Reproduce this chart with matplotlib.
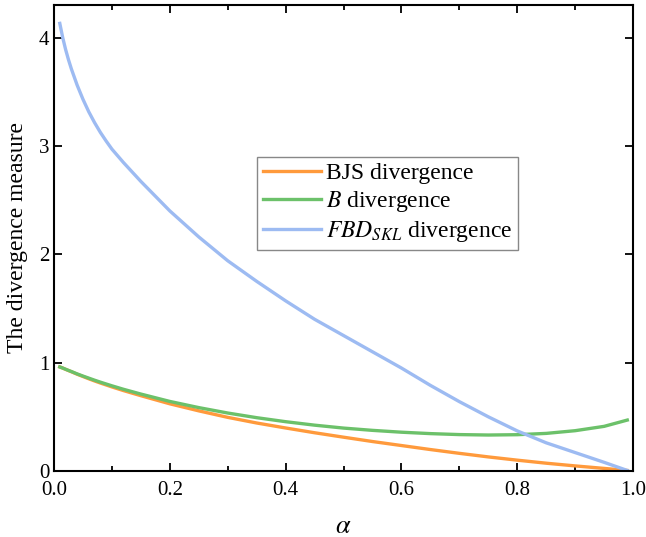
import numpy as np
import matplotlib.pyplot as plt
from matplotlib.ticker import MultipleLocator

plt.rcParams['font.family'] = ['Liberation Serif', 'DejaVu Serif']
plt.rcParams['mathtext.fontset'] = 'stix'

## values
alpha = [0.01, 0.015, 0.02, 0.025, 0.03, 0.04, 0.05, 0.06, 0.07, 0.08, 0.09, 0.10,
         0.12, 0.15, 0.20, 0.25, 0.30, 0.35, 0.40, 0.45, 0.50, 0.55, 0.60, 0.65,
         0.70, 0.75, 0.80, 0.85, 0.90, 0.95, 0.99]
bjs = [0.96, 0.95, 0.938, 0.927, 0.916, 0.893, 0.872, 0.851, 0.831, 0.812, 0.794, 0.776,
       0.742, 0.695, 0.62, 0.555, 0.495, 0.443, 0.397, 0.353, 0.312, 0.272, 0.235, 0.198,
       0.163, 0.13, 0.10, 0.072, 0.047, 0.024, 0.005]
b_div = [0.96, 0.95, 0.939, 0.928, 0.918, 0.896, 0.876, 0.857, 0.838, 0.82, 0.803, 0.786,
         0.754, 0.71, 0.642, 0.585, 0.535, 0.492, 0.455, 0.423, 0.396, 0.375, 0.358, 0.345,
         0.336, 0.332, 0.335, 0.347, 0.372, 0.412, 0.47]
fbd = [4.13, 4.00, 3.89, 3.795, 3.71, 3.56, 3.43, 3.315, 3.215, 3.125, 3.045, 2.97,
       2.846, 2.672, 2.40, 2.16, 1.94, 1.75, 1.57, 1.40, 1.25, 1.10, 0.95, 0.79,
       0.64, 0.50, 0.37, 0.26, 0.17, 0.08, 0.005]

fig = plt.figure(figsize=(6.46, 5.37), dpi=100)
ax = fig.add_axes([0.0836, 0.1229, 0.8964, 0.8678])

ax.plot(alpha, bjs, color='#FF9A3C', lw=2.4, label='BJS divergence')
ax.plot(alpha, b_div, color='#6CC16A', lw=2.4, label='$B$ divergence')
ax.plot(alpha, fbd, color='#9DBBF2', lw=2.4, label='$FBD_{SKL}$ divergence')

ax.set_xlim(0, 1)
ax.set_ylim(0, 4.3)
ax.xaxis.set_major_locator(MultipleLocator(0.2))
ax.xaxis.set_minor_locator(MultipleLocator(0.1))
ax.yaxis.set_major_locator(MultipleLocator(1))
ax.tick_params(which='both', direction='in', top=True, right=True, labelsize=15, width=1.3)
ax.tick_params(which='major', length=6)
ax.tick_params(which='minor', length=3.5)
ax.tick_params(axis='x', pad=7)
for s in ax.spines.values():
    s.set_linewidth(1.5)

ax.set_xlabel(r'$\alpha$', fontsize=19, labelpad=12)
ax.set_ylabel('The divergence measure', fontsize=17, labelpad=8)

leg = ax.legend(loc='upper left', bbox_to_anchor=(0.351, 0.674), borderaxespad=0,
                fontsize=17, fancybox=False, framealpha=1, edgecolor='#888888',
                handlelength=2.45, handletextpad=0.2, labelspacing=0.2, borderpad=0.25)
leg.get_frame().set_linewidth(1.0)

plt.savefig('out.png', dpi=100)
